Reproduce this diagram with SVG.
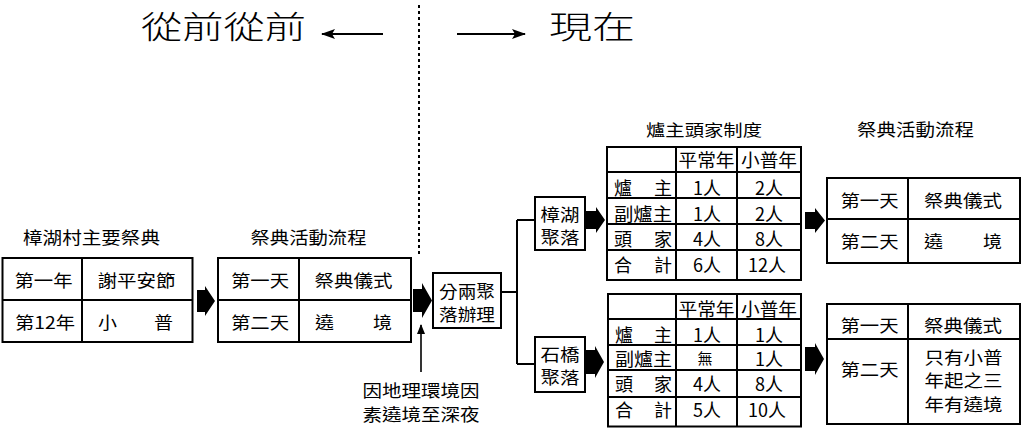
<svg xmlns="http://www.w3.org/2000/svg" width="1024" height="428" viewBox="0 0 1024 428">
<style>
text{font-family:"Noto Sans CJK TC","Noto Sans CJK SC",sans-serif;fill:#000}
.s17{font-size:17px}
.s18{font-size:18px}
.s16{font-size:16px}
.s15{font-size:15px}
.tt{font-size:31px;font-weight:300}
.box{fill:#fff;stroke:#000;stroke-width:2}
.ln{stroke:#000;stroke-width:2;fill:none}
.thin{stroke:#000;stroke-width:2;fill:none}
.up{stroke:#000;stroke-width:1.6;fill:none}
.blk{fill:#000}
</style>
<defs>
<marker id="ah" viewBox="0 0 14 10" refX="13" refY="5" markerWidth="14" markerHeight="10" markerUnits="userSpaceOnUse" orient="auto">
<path d="M0,0 L14,5 L0,10 L3,5 Z" fill="#000"/>
</marker>
<marker id="ahs" viewBox="0 0 10 8" refX="9" refY="4" markerWidth="10" markerHeight="8" markerUnits="userSpaceOnUse" orient="auto">
<path d="M0,0 L10,4 L0,8 Z" fill="#000"/>
</marker>
</defs>
<rect width="1024" height="428" fill="#fff"/>

<g id="header">
<text class="tt" x="141" y="38" textLength="165" lengthAdjust="spacingAndGlyphs">從前從前</text>
<text class="tt" x="549" y="38" textLength="86" lengthAdjust="spacingAndGlyphs">現在</text>
<line x1="383" y1="34" x2="322" y2="34" class="thin" marker-end="url(#ah)"/>
<line x1="457" y1="34" x2="525" y2="34" class="thin" marker-end="url(#ah)"/>
<line x1="419" y1="5" x2="419" y2="255" stroke="#000" stroke-width="2" stroke-dasharray="3,3"/>
</g>

<g id="table-main-festivals">
<text class="s17" x="91.5" y="244" text-anchor="middle" textLength="137" lengthAdjust="spacingAndGlyphs">樟湖村主要祭典</text>
<rect class="box" x="2.5" y="258" width="190" height="84"/>
<line class="ln" x1="2.5" y1="300" x2="192.5" y2="300"/>
<line class="ln" x1="82" y1="258" x2="82" y2="342"/>
<text class="s17" x="43.5" y="287" text-anchor="middle" textLength="58" lengthAdjust="spacingAndGlyphs">第一年</text>
<text class="s17" x="136.5" y="287" text-anchor="middle" textLength="78" lengthAdjust="spacingAndGlyphs">謝平安節</text>
<text class="s17" x="45" y="329" text-anchor="middle" textLength="60" lengthAdjust="spacingAndGlyphs">第12年</text>
<text class="s17" x="98" y="329" textLength="19" lengthAdjust="spacingAndGlyphs">小</text>
<text class="s17" x="173" y="329" text-anchor="end" textLength="19" lengthAdjust="spacingAndGlyphs">普</text>
</g>

<g id="table-flow-old">
<text class="s17" x="308.5" y="244" text-anchor="middle" textLength="116" lengthAdjust="spacingAndGlyphs">祭典活動流程</text>
<rect class="box" x="218" y="258" width="193" height="84"/>
<line class="ln" x1="218" y1="300" x2="411" y2="300"/>
<line class="ln" x1="299" y1="258" x2="299" y2="342"/>
<text class="s17" x="260" y="287" text-anchor="middle" textLength="58" lengthAdjust="spacingAndGlyphs">第一天</text>
<text class="s17" x="353.5" y="287" text-anchor="middle" textLength="78" lengthAdjust="spacingAndGlyphs">祭典儀式</text>
<text class="s17" x="260" y="329" text-anchor="middle" textLength="58" lengthAdjust="spacingAndGlyphs">第二天</text>
<text class="s17" x="315" y="329" textLength="19" lengthAdjust="spacingAndGlyphs">遶</text>
<text class="s17" x="392" y="329" text-anchor="end" textLength="19" lengthAdjust="spacingAndGlyphs">境</text>
</g>

<g id="note">
<text class="s17" x="421" y="397" text-anchor="middle" textLength="117" lengthAdjust="spacingAndGlyphs">因地理環境因</text>
<text class="s17" x="421" y="421" text-anchor="middle" textLength="117" lengthAdjust="spacingAndGlyphs">素遶境至深夜</text>
</g>

<g id="split-box">
<rect class="box" x="433" y="273" width="68" height="55"/>
<text class="s17" x="467" y="298" text-anchor="middle" textLength="56" lengthAdjust="spacingAndGlyphs">分兩聚</text>
<text class="s17" x="467" y="321" text-anchor="middle" textLength="56" lengthAdjust="spacingAndGlyphs">落辦理</text>
</g>

<g id="zhanghu-box">
<rect class="box" x="535" y="197" width="50" height="53"/>
<text class="s17" x="560" y="221" text-anchor="middle" textLength="39" lengthAdjust="spacingAndGlyphs">樟湖</text>
<text class="s17" x="560" y="244" text-anchor="middle" textLength="39" lengthAdjust="spacingAndGlyphs">聚落</text>
</g>

<g id="shiqiao-box">
<rect class="box" x="535" y="337" width="50" height="55"/>
<text class="s17" x="560" y="361" text-anchor="middle" textLength="39" lengthAdjust="spacingAndGlyphs">石橋</text>
<text class="s17" x="560" y="384" text-anchor="middle" textLength="39" lengthAdjust="spacingAndGlyphs">聚落</text>
</g>

<g id="table-zhanghu-system">
<text class="s16" x="704" y="136" text-anchor="middle" textLength="116" lengthAdjust="spacingAndGlyphs">爐主頭家制度</text>
<rect class="box" x="607" y="147" width="194" height="133"/>
<line class="ln" x1="607" y1="172" x2="801" y2="172"/>
<line class="ln" x1="607" y1="198" x2="801" y2="198"/>
<line class="ln" x1="607" y1="224" x2="801" y2="224"/>
<line class="ln" x1="607" y1="250" x2="801" y2="250"/>
<line class="ln" x1="676" y1="147" x2="676" y2="280"/>
<line class="ln" x1="737" y1="147" x2="737" y2="280"/>
<text class="s18" x="706.5" y="167" text-anchor="middle" textLength="56" lengthAdjust="spacingAndGlyphs">平常年</text>
<text class="s18" x="769" y="167" text-anchor="middle" textLength="56" lengthAdjust="spacingAndGlyphs">小普年</text>
<text class="s18" x="614" y="195">爐</text>
<text class="s18" x="672" y="195" text-anchor="end">主</text>
<text class="s18" x="643" y="221" text-anchor="middle" textLength="58" lengthAdjust="spacingAndGlyphs">副爐主</text>
<text class="s18" x="614" y="246">頭</text>
<text class="s18" x="672" y="246" text-anchor="end">家</text>
<text class="s18" x="614" y="272">合</text>
<text class="s18" x="672" y="272" text-anchor="end">計</text>
<text class="s18" x="707" y="195" text-anchor="middle">1人</text>
<text class="s18" x="769" y="195" text-anchor="middle">2人</text>
<text class="s18" x="707" y="221" text-anchor="middle">1人</text>
<text class="s18" x="769" y="221" text-anchor="middle">2人</text>
<text class="s18" x="707" y="246" text-anchor="middle">4人</text>
<text class="s18" x="769" y="246" text-anchor="middle">8人</text>
<text class="s18" x="707" y="272" text-anchor="middle">6人</text>
<text class="s18" x="767" y="272" text-anchor="middle">12人</text>
</g>

<g id="table-shiqiao-system">
<rect class="box" x="608" y="294" width="193" height="132.5"/>
<line class="ln" x1="608" y1="319" x2="801" y2="319"/>
<line class="ln" x1="608" y1="345" x2="801" y2="345"/>
<line class="ln" x1="608" y1="370" x2="801" y2="370"/>
<line class="ln" x1="608" y1="397" x2="801" y2="397"/>
<line class="ln" x1="676" y1="294" x2="676" y2="426.5"/>
<line class="ln" x1="737" y1="294" x2="737" y2="426.5"/>
<text class="s18" x="706.5" y="316" text-anchor="middle" textLength="56" lengthAdjust="spacingAndGlyphs">平常年</text>
<text class="s18" x="769" y="316" text-anchor="middle" textLength="56" lengthAdjust="spacingAndGlyphs">小普年</text>
<text class="s18" x="615" y="342">爐</text>
<text class="s18" x="672" y="342" text-anchor="end">主</text>
<text class="s18" x="643.5" y="366" text-anchor="middle" textLength="57" lengthAdjust="spacingAndGlyphs">副爐主</text>
<text class="s18" x="615" y="391">頭</text>
<text class="s18" x="672" y="391" text-anchor="end">家</text>
<text class="s18" x="615" y="417">合</text>
<text class="s18" x="672" y="417" text-anchor="end">計</text>
<text class="s18" x="707" y="342" text-anchor="middle">1人</text>
<text class="s18" x="769" y="342" text-anchor="middle">1人</text>
<text class="s15" x="705" y="364" text-anchor="middle">無</text>
<text class="s18" x="769" y="366" text-anchor="middle">1人</text>
<text class="s18" x="707" y="391" text-anchor="middle">4人</text>
<text class="s18" x="769" y="391" text-anchor="middle">8人</text>
<text class="s18" x="707" y="417" text-anchor="middle">5人</text>
<text class="s18" x="767" y="417" text-anchor="middle">10人</text>
</g>

<g id="table-flow-zhanghu">
<text class="s17" x="915.5" y="136" text-anchor="middle" textLength="117" lengthAdjust="spacingAndGlyphs">祭典活動流程</text>
<rect class="box" x="827" y="178" width="193" height="85"/>
<line class="ln" x1="827" y1="219" x2="1020" y2="219"/>
<line class="ln" x1="908" y1="178" x2="908" y2="263"/>
<text class="s17" x="869.5" y="207" text-anchor="middle" textLength="58" lengthAdjust="spacingAndGlyphs">第一天</text>
<text class="s17" x="963" y="207" text-anchor="middle" textLength="78" lengthAdjust="spacingAndGlyphs">祭典儀式</text>
<text class="s17" x="869.5" y="248" text-anchor="middle" textLength="58" lengthAdjust="spacingAndGlyphs">第二天</text>
<text class="s17" x="924" y="248" textLength="19" lengthAdjust="spacingAndGlyphs">遶</text>
<text class="s17" x="1002" y="248" text-anchor="end" textLength="19" lengthAdjust="spacingAndGlyphs">境</text>
</g>

<g id="table-flow-shiqiao">
<rect class="box" x="827" y="304" width="193" height="120"/>
<line class="ln" x1="827" y1="339" x2="1020" y2="339"/>
<line class="ln" x1="908" y1="304" x2="908" y2="424"/>
<text class="s17" x="869.5" y="332" text-anchor="middle" textLength="58" lengthAdjust="spacingAndGlyphs">第一天</text>
<text class="s17" x="963" y="332" text-anchor="middle" textLength="78" lengthAdjust="spacingAndGlyphs">祭典儀式</text>
<text class="s17" x="869.5" y="376" text-anchor="middle" textLength="58" lengthAdjust="spacingAndGlyphs">第二天</text>
<text class="s17" x="963.5" y="364" text-anchor="middle" textLength="78" lengthAdjust="spacingAndGlyphs">只有小普</text>
<text class="s17" x="963.5" y="387" text-anchor="middle" textLength="78" lengthAdjust="spacingAndGlyphs">年起之三</text>
<text class="s17" x="963.5" y="411" text-anchor="middle" textLength="78" lengthAdjust="spacingAndGlyphs">年有遶境</text>
</g>

<g id="connectors">
<path class="blk" d="M197,290 H205 V286 L215,301 L205,316 V312 H197 Z"/>
<path class="blk" d="M413,289 H422 V283 L432,300.5 L422,318 V312 H413 Z"/>
<path class="blk" d="M585,211 H596 V207 L605,220 L596,233 V229 H585 Z"/>
<path class="blk" d="M585,350 H595 V346 L604,362 L595,378 V374 H585 Z"/>
<path class="blk" d="M805,212 H815 V208 L825,220.5 L815,233 V229 H805 Z"/>
<path class="blk" d="M805,347 H815 V343 L824,359 L815,375 V371 H805 Z"/>
<line x1="421" y1="372" x2="421" y2="325" class="up" marker-end="url(#ahs)"/>
<path class="ln" d="M501,292 H517 M517,220 V364 M517,220 H535 M517,364 H535"/>
</g>
</svg>
